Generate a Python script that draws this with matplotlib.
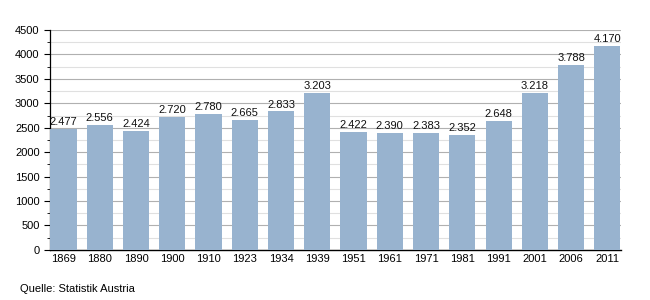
import matplotlib.pyplot as plt
from matplotlib.ticker import MultipleLocator

# Einwohnerentwicklung
jahre = ['1869', '1880', '1890', '1900', '1910', '1923', '1934', '1939',
         '1951', '1961', '1971', '1981', '1991', '2001', '2006', '2011']
einwohner = [2477, 2556, 2424, 2720, 2780, 2665, 2833, 3203,
             2422, 2390, 2383, 2352, 2648, 3218, 3788, 4170]

plt.rcParams['font.family'] = ['Liberation Sans', 'DejaVu Sans']

fig = plt.figure(figsize=(6.5, 3), dpi=100)
ax = fig.add_axes([0.077, 0.167, 0.878, 0.733])

x = range(len(jahre))
ax.bar(x, einwohner, width=0.72, color='#98b3cf', zorder=3)

for i, v in zip(x, einwohner):
    label = f'{v:,}'.replace(',', '.')
    ax.text(i, v + 40, label, ha='center', va='bottom', fontsize=8, color='#111111', zorder=4)

ax.set_xlim(-0.37, len(jahre) - 0.63)
ax.set_ylim(0, 4500)
ax.yaxis.set_major_locator(MultipleLocator(500))
ax.yaxis.set_minor_locator(MultipleLocator(250))
ax.grid(axis='y', which='major', color='#b0b0b0', linewidth=0.8, zorder=0)
ax.grid(axis='y', which='minor', color='#e0e0e0', linewidth=0.8, zorder=0)

ax.set_xticks(list(x))
ax.set_xticklabels(jahre, fontsize=8)
ax.tick_params(axis='y', labelsize=8, length=4, width=0.8)
ax.tick_params(axis='y', which='minor', length=2)
ax.tick_params(axis='x', length=0, pad=3)

ax.spines['top'].set_visible(False)
ax.spines['right'].set_visible(False)
ax.spines['left'].set_linewidth(0.9)
ax.spines['bottom'].set_linewidth(1.0)

fig.text(0.031, 0.02, 'Quelle: Statistik Austria', fontsize=8, ha='left', va='bottom')

fig.savefig('out.png', dpi=100)
